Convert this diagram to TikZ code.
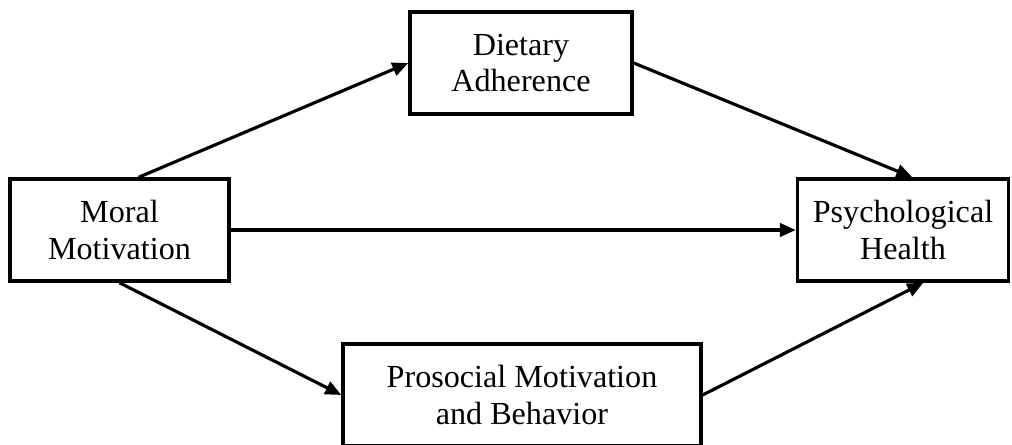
\documentclass[tikz,border=0pt]{standalone}
\usepackage{fontspec}
\setmainfont{Liberation Serif}
\usetikzlibrary{arrows.meta}
\usetikzlibrary{positioning}

\begin{document}
\begin{tikzpicture}[x=0.02cm, y=0.02cm,
    box/.style={draw, line width=2pt, fill=white, inner sep=0pt, align=center,
      minimum height=2.04cm, font=\fontsize{18.3pt}{20.5pt}\selectfont},
    path/.style={line width=1.8pt, -{Triangle[length=0.32cm, width=0.27cm]}}]

  \useasboundingbox (0,0) rectangle (1012,444);

  % Variables
  \node[box, minimum width=4.38cm] (moral) at (119.5,214) {Moral\\Motivation};
  \node[box, minimum width=4.44cm] (dietary) at (521,381) {Dietary\\Adherence};
  \node[box, minimum width=4.22cm] (psych) at (903,214) {Psychological\\Health};
  \node[box, minimum width=7.16cm] (prosocial) at (522,49) {Prosocial Motivation\\and Behavior};

  % Paths
  \draw[path] (moral.70) -- (dietary.west);
  \draw[path] (dietary.east) -- (psych.80);
  \draw[path] (moral.east) -- (psych.west);
  \draw[path] (moral.south) -- (prosocial.west);
  \draw[path] (prosocial.east) -- (psych.291);

\end{tikzpicture}
\end{document}
